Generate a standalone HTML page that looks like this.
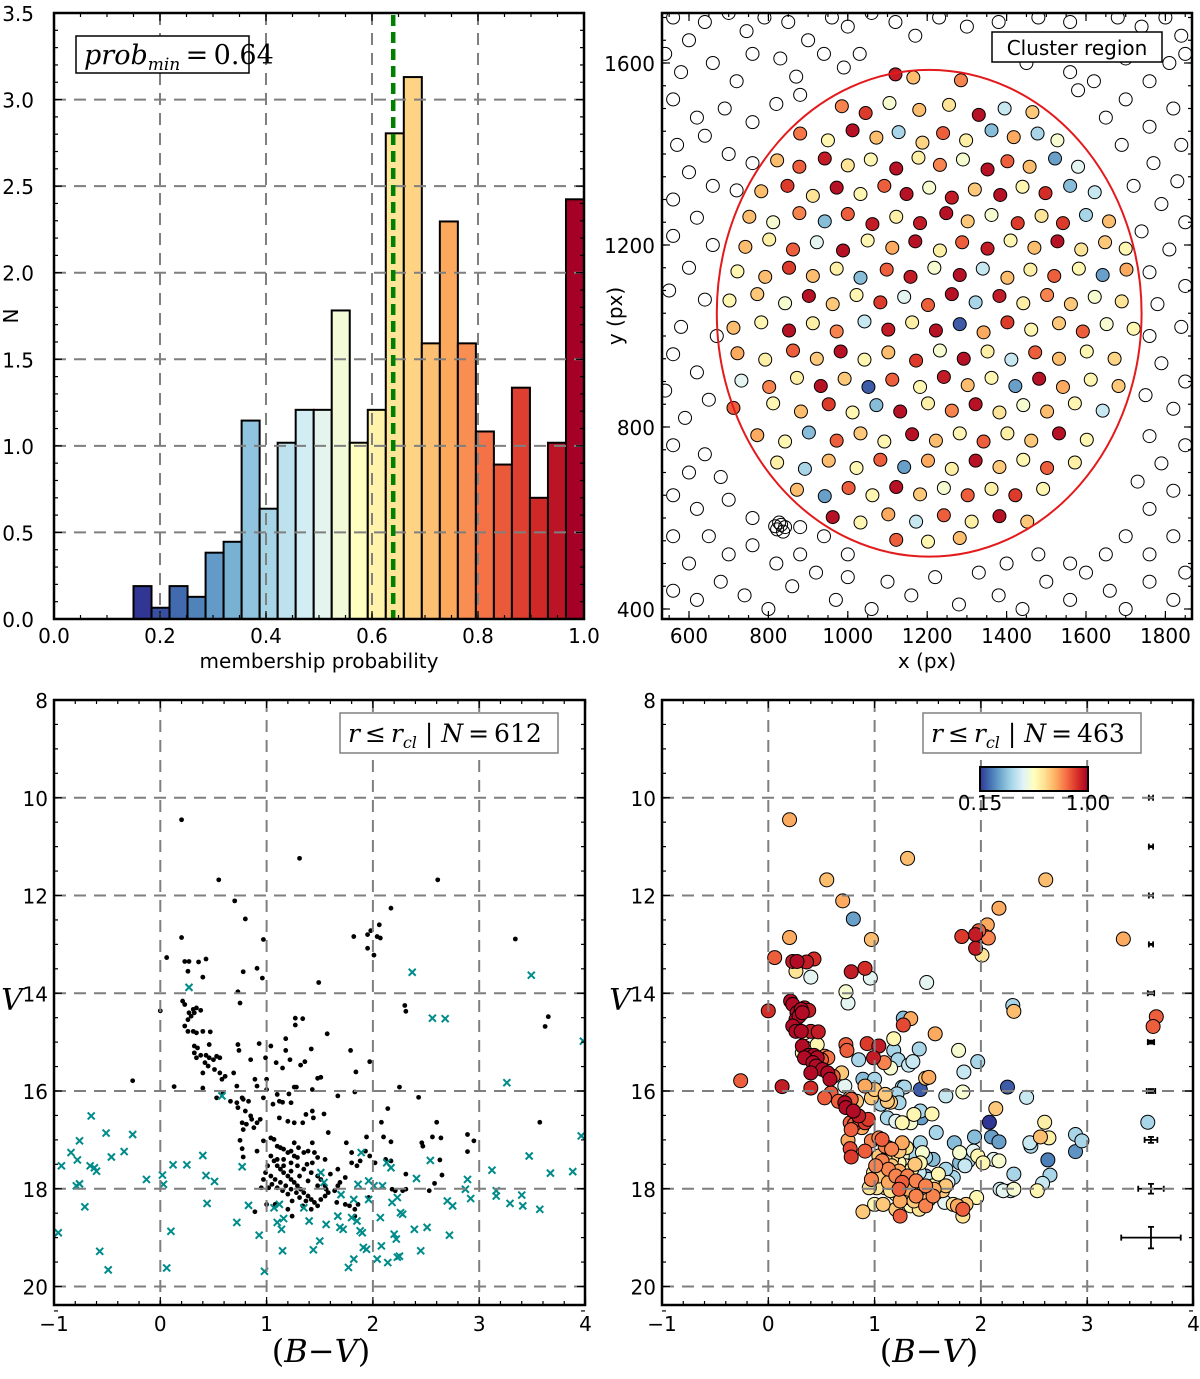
<!DOCTYPE html>
<html><head><meta charset="utf-8"><title>Cluster membership</title>
<style>
html,body{margin:0;padding:0;background:#fff;}
svg{display:block;}
.tick{font-family:"DejaVu Sans","Liberation Sans",sans-serif;font-size:20px;fill:#000;}
.lab{font-family:"DejaVu Sans","Liberation Sans",sans-serif;font-size:20px;fill:#000;}
.math{font-family:"DejaVu Serif","Liberation Serif",serif;font-style:italic;fill:#000;}
</style></head>
<body>
<svg id="fig" width="1200" height="1379" viewBox="0 0 1200 1379" xmlns="http://www.w3.org/2000/svg">
<defs>
<linearGradient id="cbgrad" x1="0" x2="1" y1="0" y2="0">
<stop offset="0" stop-color="#313695"/><stop offset="0.1" stop-color="#4575b4"/><stop offset="0.2" stop-color="#74add1"/><stop offset="0.3" stop-color="#abd9e9"/><stop offset="0.4" stop-color="#e0f3f8"/><stop offset="0.5" stop-color="#ffffbf"/><stop offset="0.6" stop-color="#fee090"/><stop offset="0.7" stop-color="#fdae61"/><stop offset="0.8" stop-color="#f46d43"/><stop offset="0.9" stop-color="#d73027"/><stop offset="1" stop-color="#a50026"/>
</linearGradient>
<clipPath id="clipTR"><rect x="662" y="13" width="530" height="606"/></clipPath>
<clipPath id="clipBL"><rect x="54" y="700" width="531" height="605"/></clipPath>
<clipPath id="clipBR"><rect x="662" y="700" width="531" height="605"/></clipPath>
</defs>
</svg>
<script>
// ---------- Histogram data ----------
const histStart = 0.15;
const histBinWidth = 0.034;
const histCounts = [0.19,0.065,0.19,0.128,0.383,0.446,1.146,0.637,1.018,1.208,1.208,1.782,1.018,1.208,2.805,3.13,1.592,2.296,1.592,1.083,0.892,1.336,0.70,1.018,2.424];
const probMin = 0.64;
const histXTicks = [0.0,0.2,0.4,0.6,0.8,1.0];
const histXTickLabels = ["0.0","0.2","0.4","0.6","0.8","1.0"];
const histYTicks = [0.0,0.5,1.0,1.5,2.0,2.5,3.0,3.5];
const histYTickLabels = ["0.0","0.5","1.0","1.5","2.0","2.5","3.0","3.5"];

// ---------- Spatial plot data ----------
const spXTicks = [600,800,1000,1200,1400,1600,1800];
const spYTicks = [400,800,1200,1600];
const clusterCenter = [1205,1050];
const clusterRadius = 535;
const memX = [1120,1165,1285,
985,1045,1105,1180,1255,1330,1395,1465,
880,950,1012,1072,1128,1188,1240,1298,1362,1418,1478,1528,
822,878,942,1000,1058,1122,1178,1232,1290,1352,1402,1458,1522,1580,
782,848,912,972,1032,1092,1148,1205,1262,1320,1384,1440,1498,1560,1622,
752,812,878,942,1000,1062,1122,1182,1248,1302,1362,1428,1488,1542,1600,1658,
742,802,862,922,988,1050,1112,1170,1232,1288,1352,1410,1470,1528,1588,1648,1700,
722,792,852,912,972,1032,1098,1158,1218,1282,1340,1402,1460,1520,1582,1642,1702,
702,772,842,902,962,1022,1082,1142,1202,1262,1322,1382,1442,1502,1562,1622,1690,
712,782,852,912,972,1042,1102,1162,1222,1282,1342,1402,1462,1532,1592,1652,1720,
722,792,862,922,982,1042,1102,1172,1232,1292,1352,1412,1472,1532,1602,1672,
732,802,872,932,992,1052,1112,1182,1242,1302,1362,1422,1482,1542,1612,1682,
712,812,882,952,1012,1072,1132,1202,1262,1322,1382,1442,1502,1572,1642,
772,842,902,972,1032,1092,1162,1222,1282,1342,1402,1462,1532,1602,
822,892,952,1022,1082,1142,1202,1262,1322,1382,1442,1502,1572,
872,942,1002,1062,1122,1182,1242,1302,1362,1422,1492,
962,1032,1102,1172,1242,1312,1382,1452,
1122,1202,1282];
const memY = [1575,1568,1562,
1505,1490,1512,1497,1508,1486,1500,1492,
1445,1430,1452,1436,1448,1425,1446,1430,1452,1437,1445,1430,
1386,1372,1390,1375,1388,1368,1392,1376,1388,1366,1384,1372,1390,1372,
1318,1330,1308,1326,1312,1330,1312,1326,1304,1322,1310,1328,1314,1330,1316,
1262,1250,1270,1252,1268,1246,1262,1248,1270,1252,1266,1248,1264,1248,1266,1252,
1196,1212,1190,1206,1188,1210,1194,1208,1188,1206,1192,1210,1194,1208,1190,1206,1192,
1142,1130,1150,1132,1148,1128,1146,1130,1150,1134,1148,1128,1146,1132,1148,1134,1146,
1078,1092,1072,1088,1070,1090,1074,1086,1068,1092,1074,1088,1072,1090,1070,1086,1076,
1018,1030,1012,1028,1010,1032,1014,1030,1012,1026,1008,1030,1014,1028,1010,1026,1016,
962,948,968,950,966,948,964,946,968,950,966,948,964,950,966,950,
902,888,908,890,906,888,904,888,910,892,908,890,906,888,904,890,
842,852,834,850,832,848,834,852,836,850,832,848,834,852,836,
782,768,788,770,786,768,784,770,786,768,786,770,786,772,
722,708,726,710,728,712,726,708,726,712,728,710,722,
662,648,666,650,668,652,666,650,664,650,664,
602,590,608,592,606,592,604,592,
552,548,556];
const memP = [0.95,0.72,0.8,
0.8,0.9,0.55,0.72,0.65,0.97,0.45,0.7,
0.82,0.6,0.97,0.72,0.4,0.68,0.85,0.62,0.35,0.75,0.4,0.55,
0.72,0.85,0.95,0.65,0.6,0.97,0.62,0.8,0.55,0.97,0.85,0.72,0.3,0.5,
0.72,0.9,0.65,0.97,0.6,0.85,0.97,0.55,0.95,0.7,0.97,0.6,0.92,0.35,0.45,
0.72,0.55,0.8,0.35,0.85,0.95,0.62,0.95,0.97,0.7,0.55,0.9,0.65,0.9,0.4,0.72,
0.72,0.62,0.85,0.5,0.97,0.6,0.75,0.97,0.62,0.85,0.95,0.6,0.72,0.97,0.65,0.7,0.6,
0.6,0.72,0.9,0.72,0.62,0.35,0.85,0.95,0.55,0.97,0.45,0.72,0.62,0.85,0.6,0.3,0.75,
0.6,0.7,0.55,0.97,0.7,0.6,0.9,0.5,0.85,0.97,0.4,0.95,0.62,0.8,0.7,0.55,0.65,
0.72,0.6,0.97,0.62,0.8,0.45,0.95,0.62,0.97,0.2,0.75,0.9,0.6,0.7,0.85,0.55,0.6,
0.75,0.62,0.85,0.7,0.97,0.6,0.72,0.9,0.55,0.97,0.62,0.45,0.85,0.72,0.6,0.68,
0.5,0.8,0.62,0.97,0.7,0.2,0.85,0.6,0.95,0.72,0.6,0.3,0.97,0.75,0.6,0.7,
0.85,0.6,0.72,0.9,0.6,0.35,0.97,0.62,0.8,0.97,0.65,0.55,0.72,0.6,0.45,
0.75,0.6,0.35,0.85,0.7,0.6,0.97,0.72,0.6,0.85,0.62,0.7,0.97,0.6,
0.62,0.4,0.72,0.6,0.85,0.3,0.75,0.62,0.97,0.7,0.6,0.85,0.62,
0.72,0.3,0.85,0.6,0.97,0.7,0.55,0.85,0.62,0.9,0.6,
0.97,0.6,0.75,0.45,0.85,0.62,0.97,0.7,
0.85,0.6,0.72];
const fieldX = [560,600,640,700,745,790,850,900,960,1000,1060,1120,1170,1230,1300,1380,1430,1480,1560,1620,1680,1740,1800,1840,
540,580,660,720,760,830,870,940,990,1030,1450,1500,1560,1620,1700,1760,1810,1850,
560,620,690,760,820,880,570,640,700,760,600,660,560,720,620,560,660,600,550,640,580,670,560,620,540,650,590,560,640,600,680,560,620,700,760,650,560,600,700,760,820,880,560,620,680,740,800,860,920,970,1000,1060,1100,1160,1220,1280,1330,1380,1440,1500,1560,1600,1660,1700,1760,1820,1850,1650,1700,1760,1820,1560,1480,1400,1000,940,880,
1760,1820,1730,1790,1850,1760,1820,1750,1850,1790,1760,1840,1780,1850,1760,1810,1740,1850,1790,1720,1830,1770,1690,1840,1760,1650,1820,1700,1580,
822,832,837,827,842,817];
const fieldY = [1700,1650,1690,1710,1670,1700,1690,1650,1700,1680,1710,1690,1660,1700,1680,1690,1650,1700,1690,1640,1700,1680,1700,1660,
1620,1580,1600,1560,1620,1610,1570,1620,1590,1620,1600,1620,1580,1560,1610,1560,1600,1620,
1520,1480,1500,1470,1510,1530,1420,1440,1400,1380,1360,1330,1300,1320,1260,1220,1200,1150,1100,1080,1020,1000,960,920,880,860,820,760,740,700,690,650,620,640,600,560,560,500,520,540,500,520,440,420,460,430,400,450,480,420,470,400,460,430,470,410,480,430,400,460,420,480,440,400,460,420,480,520,560,520,560,500,520,500,520,560,580,
620,660,680,720,760,780,840,870,900,940,1000,1020,1070,1110,1140,1190,1230,1250,1290,1330,1340,1380,1420,1420,1460,1480,1500,1520,1540,
575,585,570,590,580,582];

// ---------- CMD data ----------
const cmdXTicks = [-1,0,1,2,3,4];
const cmdXTickLabels = ["\u22121","0","1","2","3","4"];
const cmdYTicks = [8,10,12,14,16,18,20];
const starBV = [0.20,1.31,0.55,2.61,0.70,0.80,2.17,0.20,0.97,1.82,1.95,1.98,
2.06,2.04,2.07,1.95,2.01,3.34,0.06,0.23,0.27,0.36,0.43,0.26,
0.40,0.78,0.91,0.96,1.49,0.73,0.75,0.00,2.30,2.31,3.65,3.62,
0.21,0.23,0.27,0.31,0.34,0.38,0.26,0.29,0.32,0.23,0.26,0.31,
0.34,0.40,0.47,0.32,0.35,0.38,0.43,0.46,0.50,0.56,0.34,0.42,
0.45,0.51,0.56,0.58,0.61,0.46,0.32,0.53,0.40,0.69,0.72,0.59,
0.53,0.66,0.72,0.77,0.78,0.83,0.73,0.80,0.85,0.77,0.81,0.86,
0.91,0.94,0.78,0.88,0.73,0.74,0.85,0.93,1.04,0.99,1.09,1.15,
1.18,1.22,1.18,1.27,1.34,1.27,1.32,1.36,1.42,1.57,1.48,1.51,
1.43,1.26,1.28,1.21,1.23,1.15,1.12,1.06,1.12,1.20,1.26,1.34,
1.37,1.43,1.44,1.54,1.00,0.89,0.91,0.97,1.00,1.10,1.79,1.84,
1.83,1.67,1.97,2.14,2.08,2.25,2.43,0.75,0.77,0.78,0.91,0.97,
1.04,1.07,1.10,1.13,1.16,1.20,1.23,1.26,1.29,1.35,1.39,1.43,
1.48,1.55,1.58,1.43,1.04,1.07,1.10,1.13,1.16,1.20,1.23,1.26,
1.29,1.32,1.35,1.39,1.42,1.45,1.48,1.51,1.55,1.58,1.55,1.51,
1.48,1.42,1.35,1.29,1.23,1.16,1.10,1.01,0.99,1.04,1.08,1.13,
1.18,1.23,1.28,1.31,1.37,1.34,1.42,1.24,1.20,1.15,1.10,1.05,
1.02,0.95,0.97,1.16,1.23,1.31,1.39,1.48,1.56,1.64,1.67,1.69,
1.74,1.75,1.80,1.85,1.88,1.80,1.93,1.97,1.94,1.67,1.66,1.74,
1.78,1.83,1.86,1.96,1.83,1.24,1.20,1.08,1.00,0.89,2.02,2.12,
2.17,2.10,2.17,2.18,2.21,2.28,2.31,2.31,2.46,2.47,2.53,2.56,
2.63,2.65,2.64,2.58,2.60,2.89,2.89,2.95,3.57,-0.26,0.13,0.40,
1.26,1.30,1.45,1.38,1.60];
const starV = [10.45,11.24,11.68,11.68,12.11,12.48,12.26,12.86,12.90,12.84,12.80,12.72,
12.60,12.84,12.87,13.08,13.22,12.89,13.27,13.35,13.35,13.36,13.30,13.55,
13.67,13.56,13.49,13.69,13.78,13.97,14.20,14.36,14.25,14.37,14.48,14.68,
14.16,14.23,14.40,14.33,14.30,14.35,14.54,14.47,14.40,14.67,14.78,14.78,
14.81,14.78,14.79,15.08,15.12,15.27,15.27,15.32,15.36,15.32,15.32,15.42,
15.49,15.56,15.63,15.76,15.70,15.05,15.22,15.29,15.63,15.63,15.90,16.04,
16.14,16.21,16.24,16.14,16.17,16.21,16.34,16.41,16.51,16.65,16.68,16.58,
16.65,16.58,16.79,16.75,15.05,15.17,15.36,15.03,15.08,15.32,15.42,15.53,
15.17,15.36,14.93,14.51,14.52,14.65,15.47,15.40,15.14,14.83,15.74,15.72,
15.97,15.92,15.92,16.06,16.24,16.23,16.21,16.27,16.55,16.62,16.65,16.65,
16.48,16.41,16.55,16.47,15.76,15.76,15.90,16.14,15.97,16.07,15.17,15.61,
16.02,16.10,15.40,16.36,16.64,15.92,16.13,17.01,17.18,17.35,17.23,17.02,
16.96,16.99,17.13,17.16,17.19,17.26,17.23,17.33,17.36,17.26,17.23,17.06,
17.36,17.40,16.85,17.47,17.33,17.43,17.53,17.60,17.67,17.74,17.81,17.87,
17.94,18.01,18.08,18.15,18.22,18.28,18.35,18.22,18.15,18.08,17.94,17.81,
17.74,17.67,17.60,17.53,17.47,17.40,17.40,17.53,17.67,17.74,17.81,17.87,
17.94,18.01,18.08,18.18,18.25,18.35,18.42,18.25,18.11,18.04,17.98,17.91,
17.98,17.98,17.81,17.53,17.64,17.74,17.84,17.94,18.01,18.04,17.94,17.87,
17.77,17.06,17.47,17.53,17.43,17.26,17.23,17.33,16.94,17.60,18.28,18.32,
18.35,18.42,18.32,18.18,18.56,18.56,18.42,18.32,18.32,18.47,17.47,17.40,
17.43,16.94,17.04,18.01,18.04,18.04,17.70,18.01,17.06,17.13,18.04,16.94,
17.41,17.72,16.96,17.89,16.64,16.89,17.24,17.02,16.64,15.79,15.91,15.94,
17.06,17.16,17.26,17.50,17.70];
const starP = [0.75,0.72,0.72,0.72,0.75,0.3,0.75,0.75,0.72,0.9,0.95,0.85,
0.75,0.8,0.8,0.95,0.65,0.75,0.85,0.95,0.98,0.95,0.92,0.65,
0.5,0.95,0.92,0.5,0.5,0.55,0.5,0.92,0.4,0.72,0.85,0.85,
0.98,0.98,0.98,0.98,0.95,0.95,0.98,0.98,0.98,0.98,0.98,0.98,
0.6,0.95,0.95,0.98,0.55,0.98,0.98,0.98,0.85,0.82,0.98,0.98,
0.98,0.98,0.98,0.98,0.85,0.6,0.6,0.8,0.98,0.7,0.5,0.85,
0.85,0.85,0.98,0.7,0.85,0.7,0.98,0.98,0.95,0.85,0.85,0.85,
0.9,0.9,0.85,0.75,0.85,0.85,0.4,0.9,0.95,0.95,0.8,0.55,
0.4,0.4,0.6,0.35,0.75,0.88,0.45,0.45,0.4,0.75,0.7,0.75,
0.2,0.4,0.4,0.4,0.4,0.7,0.7,0.4,0.4,0.5,0.6,0.55,
0.6,0.4,0.3,0.6,0.4,0.35,0.75,0.7,0.7,0.7,0.55,0.45,
0.55,0.45,0.4,0.7,0.15,0.2,0.45,0.75,0.88,0.9,0.85,0.8,
0.8,0.85,0.8,0.75,0.8,0.65,0.7,0.55,0.35,0.4,0.35,0.4,
0.4,0.35,0.4,0.6,0.7,0.8,0.7,0.8,0.75,0.8,0.75,0.85,
0.65,0.75,0.6,0.8,0.6,0.65,0.8,0.7,0.8,0.65,0.6,0.45,
0.3,0.45,0.6,0.55,0.6,0.65,0.7,0.8,0.65,0.7,0.65,0.75,
0.6,0.85,0.6,0.65,0.7,0.6,0.65,0.75,0.6,0.65,0.6,0.6,
0.65,0.65,0.8,0.7,0.75,0.8,0.8,0.8,0.75,0.7,0.7,0.5,
0.4,0.35,0.35,0.45,0.4,0.55,0.5,0.6,0.35,0.4,0.5,0.65,
0.75,0.85,0.7,0.6,0.65,0.85,0.7,0.7,0.6,0.7,0.6,0.5,
0.55,0.3,0.3,0.45,0.5,0.45,0.4,0.55,0.45,0.4,0.6,0.72,
0.25,0.4,0.62,0.45,0.62,0.4,0.28,0.4,0.4,0.85,0.95,0.92,
0.75,0.65,0.55,0.7,0.6];
const crossBV = [2.37,3.49,2.56,2.68,3.98,0.27,3.26,-0.65,-0.51,-0.26,-0.76,-0.84,-0.78,-0.46,-0.34,-0.93,-0.66,-0.62,-0.60,-0.79,-0.76,-0.71,-0.96,-0.57,-0.49,-0.13,0.02,0.03,0.12,0.25,0.10,0.06,0.40,0.43,0.51,0.44,0.58,0.77,0.83,0.72,0.93,0.98,1.07,1.12,1.10,1.16,1.14,1.15,1.35,1.40,1.51,1.54,1.56,1.50,1.44,1.67,1.70,1.69,1.72,1.77,1.82,1.80,1.85,1.82,1.86,1.88,1.90,1.89,1.91,1.94,1.96,1.96,2.01,2.04,2.07,2.08,2.09,2.14,2.17,2.13,2.18,2.20,2.22,2.23,2.23,2.25,2.26,2.28,2.39,2.41,2.45,2.51,2.54,2.70,2.72,2.75,2.87,2.89,2.92,3.12,3.16,3.16,3.29,3.40,3.41,3.47,3.57,3.67,3.88,3.96];
const crossV = [13.57,13.63,14.51,14.52,14.98,13.88,15.83,16.51,16.86,16.89,17.02,17.26,17.41,17.35,17.24,17.53,17.53,17.57,17.64,17.94,17.90,18.37,18.90,19.28,19.66,17.81,17.72,17.91,17.51,17.51,18.87,19.62,17.32,17.73,17.85,18.30,16.10,17.55,18.34,18.69,18.95,19.69,18.39,18.32,18.69,18.61,18.83,19.27,18.39,18.66,17.67,17.87,18.73,19.07,19.25,18.56,18.12,18.79,18.83,19.61,19.44,18.59,18.66,18.22,17.91,18.86,18.90,17.26,19.20,19.24,18.22,17.84,17.94,19.44,18.59,19.17,17.94,19.51,17.57,17.47,18.28,18.93,19.03,18.18,19.40,19.38,18.49,18.52,18.83,17.79,19.27,18.79,17.42,18.25,18.95,18.35,18.01,17.81,18.20,17.62,18.04,18.15,18.30,18.13,18.35,17.33,18.42,17.68,17.65,16.92];
const errBVPos = 3.6;
const errV = [10,11,12,13,14,15,16,17,18,19];
const errBV = [0.02,0.02,0.02,0.02,0.03,0.03,0.04,0.06,0.12,0.28];
const errVerr = [0.01,0.01,0.01,0.01,0.02,0.03,0.04,0.06,0.10,0.22];

// ---------- helpers ----------
const NS = "http://www.w3.org/2000/svg";
const svg = document.getElementById("fig");
function el(tag, attrs, parent){
  const e = document.createElementNS(NS, tag);
  for (const k in attrs) e.setAttribute(k, attrs[k]);
  (parent||svg).appendChild(e);
  return e;
}
const cmapStops = ["#313695","#4575b4","#74add1","#abd9e9","#e0f3f8","#ffffbf","#fee090","#fdae61","#f46d43","#d73027","#a50026"];
function hexRgb(h){return [parseInt(h.substr(1,2),16),parseInt(h.substr(3,2),16),parseInt(h.substr(5,2),16)];}
function cmap(t){
  t=Math.max(0,Math.min(1,t));
  const f=t*10, i=Math.min(9,Math.floor(f)), u=f-i;
  const a=hexRgb(cmapStops[i]), b=hexRgb(cmapStops[i+1]);
  return "rgb("+a.map((v,k)=>Math.round(v+(b[k]-v)*u)).join(",")+")";
}
function probColor(p){return cmap((p-0.15)/0.85);}

function frame(x0,y0,x1,y1,name){
  const r = el("rect",{x:x0,y:y0,width:x1-x0,height:y1-y0,fill:"none",stroke:"#000","stroke-width":2.5});
  
  
}
function ticksX(vals, sx, y0, y1, len, name){
  const g = el("g",{stroke:"#000","stroke-width":1.2});
  
  
  vals.forEach(v=>{
    const x=sx(v);
    el("line",{x1:x,x2:x,y1:y1,y2:y1-len},g);
    el("line",{x1:x,x2:x,y1:y0,y2:y0+len},g);
  });
}
function ticksY(vals, sy, x0, x1, len, name){
  const g = el("g",{stroke:"#000","stroke-width":1.2});
  
  
  vals.forEach(v=>{
    const y=sy(v);
    el("line",{x1:x0,x2:x0+len,y1:y,y2:y},g);
    el("line",{x1:x1,x2:x1-len,y1:y,y2:y},g);
  });
}
function range(a,b,s){const r=[];for(let v=a;v<=b+1e-9;v+=s)r.push(+v.toFixed(4));return r;}
function gridX(vals,sx,y0,y1,name){
  const g=el("g",{stroke:"#7f7f7f","stroke-width":2,"stroke-dasharray":"12,8"});
  
  
  vals.forEach(v=>{const x=sx(v);el("line",{x1:x,x2:x,y1:y0,y2:y1},g);});
}
function gridY(vals,sy,x0,x1,name){
  const g=el("g",{stroke:"#7f7f7f","stroke-width":2,"stroke-dasharray":"12,8"});
  
  
  vals.forEach(v=>{const y=sy(v);el("line",{x1:x0,x2:x1,y1:y,y2:y},g);});
}
function text(x,y,str,cls,anchor,name,extra){
  const t=el("text",Object.assign({x:x,y:y,"class":cls,"text-anchor":anchor||"middle"},extra||{}));
  t.textContent=str;
  
  
  return t;
}

// ================= Panel 1: histogram =================
const hx0=54,hx1=584,hy0=13,hy1=619;
const hX = p => hx0 + p*(hx1-hx0);
const hY = n => hy1 - n*(hy1-hy0)/3.5;
const histG = el("g",{});


histCounts.forEach((c,i)=>{
  const a=histStart+i*histBinWidth, b=a+histBinWidth;
  const r=el("rect",{x:hX(a),y:hY(c),width:hX(b)-hX(a),height:hY(0)-hY(c),fill:cmap(i/(histCounts.length-1)),stroke:"#000","stroke-width":2},histG);
  
  
});
gridX([0.2,0.4,0.6,0.8],hX,hy0,hy1,"histogram-x-grid");
gridY([0.5,1.0,1.5,2.0,2.5,3.0],hY,hx0,hx1,"histogram-y-grid");
const pm=el("line",{x1:hX(probMin),x2:hX(probMin),y1:hy0+2,y2:hy1,stroke:"#008000","stroke-width":4.5,"stroke-dasharray":"11,6"});


ticksX(range(0,1,0.05),hX,hy0,hy1,4,"histogram-x-minor-ticks");
ticksX(histXTicks,hX,hy0,hy1,8,"histogram-x-major-ticks");
ticksY(range(0,3.5,0.1),hY,hx0,hx1,4,"histogram-y-minor-ticks");
ticksY(histYTicks,hY,hx0,hx1,8,"histogram-y-major-ticks");
frame(hx0,hy0,hx1,hy1,"histogram-frame");
histXTicks.forEach((v,i)=>text(hX(v),643,histXTickLabels[i],"tick","middle","histogram-x-tick-label"));
histYTicks.forEach((v,i)=>text(34,hY(v)+8,histYTickLabels[i],"tick","end","histogram-y-tick-label"));
text(319,668,"membership probability","lab","middle","histogram-x-axis-title");
text(18,316,"N","lab","middle","histogram-y-axis-title",{transform:"rotate(-90 18 316)"});
const lb1=el("rect",{x:76,y:36,width:173,height:37,fill:"#fff",stroke:"#000","stroke-width":1.5});


const t1=text(84,64,"","math","start","prob-min-legend-text",{"font-size":"27px"});
t1.innerHTML='prob<tspan font-size="17px" dy="6">min</tspan><tspan dy="-6" font-style="normal">\u2009=\u20090.64</tspan>';

// ================= Panel 2: spatial =================
const sx0=662,sx1=1192,sy0=13,sy1=619;
const sX = x => 689 + (x-600)*0.397;
const sY = y => 63 + (1600-y)*0.455;
const spG=el("g",{"clip-path":"url(#clipTR)"});


const nf=Math.min(fieldX.length,fieldY.length);
for(let i=0;i<nf;i++){
  const c=el("circle",{cx:sX(fieldX[i]),cy:sY(fieldY[i]),r:6.5,fill:"none",stroke:"#000","stroke-width":1},spG);
  
  
}
const nm=Math.min(memX.length,memY.length,memP.length);
for(let i=0;i<nm;i++){
  const c=el("circle",{cx:sX(memX[i]),cy:sY(memY[i]),r:6.5,fill:probColor(memP[i]),stroke:"#000","stroke-width":1},spG);
  
  
}
const ell=el("ellipse",{cx:sX(clusterCenter[0]),cy:sY(clusterCenter[1]),rx:clusterRadius*0.397,ry:clusterRadius*0.455,fill:"none",stroke:"#e31a1c","stroke-width":2},spG);


ticksX(range(550,1850,50),sX,sy0,sy1,4,"spatial-x-minor-ticks");
ticksX(spXTicks,sX,sy0,sy1,8,"spatial-x-major-ticks");
ticksY(range(400,1700,50),sY,sx0,sx1,4,"spatial-y-minor-ticks");
ticksY(spYTicks,sY,sx0,sx1,8,"spatial-y-major-ticks");
frame(sx0,sy0,sx1,sy1,"spatial-frame");
spXTicks.forEach(v=>text(sX(v),643,String(v),"tick","middle","spatial-x-tick-label"));
spYTicks.forEach(v=>text(655,sY(v)+8,String(v),"tick","end","spatial-y-tick-label"));
text(927,668,"x (px)","lab","middle","spatial-x-axis-title");
text(622,316,"y (px)","lab","middle","spatial-y-axis-title",{transform:"rotate(-90 622 316)"});
const lb2=el("rect",{x:992,y:32,width:170,height:30,fill:"#fff",stroke:"#000","stroke-width":1.5});


text(1077,55,"Cluster region","lab","middle","cluster-region-legend-text");

// ================= Panels 3 & 4: CMDs =================
const cy0=700,cy1=1305;
const cY = v => 700 + (v-8)*48.875;
function cmdAxes(x0){
  const x1=x0+531;
  const cX = b => x0 + (b+1)*106.3;
  return {x0,x1,cX};
}
const L=cmdAxes(54), R=cmdAxes(662);

const blG=el("g",{"clip-path":"url(#clipBL)"});


const ns=Math.min(starBV.length,starV.length,starP.length);
for(let i=0;i<ns;i++){
  const c=el("circle",{cx:L.cX(starBV[i]),cy:cY(starV[i]),r:2.4,fill:"#000"},blG);
  
  
}
const nc=Math.min(crossBV.length,crossV.length);
for(let i=0;i<nc;i++){
  const x=L.cX(crossBV[i]), y=cY(crossV[i]);
  const p=el("path",{d:`M${x-3.5},${y-3.5}L${x+3.5},${y+3.5}M${x-3.5},${y+3.5}L${x+3.5},${y-3.5}`,stroke:"#008b8b","stroke-width":2,fill:"none"},blG);
  
  
}
const brG=el("g",{"clip-path":"url(#clipBR)"});


const order=[...Array(ns).keys()].sort((a,b)=>starP[a]-starP[b]);
order.forEach(i=>{
  const c=el("circle",{cx:R.cX(starBV[i]),cy:cY(starV[i]),r:7,fill:probColor(starP[i]),stroke:"#000","stroke-width":1},brG);
  
  
});
const ebG=el("g",{stroke:"#000","stroke-width":1.8});


errV.forEach((v,i)=>{
  const x=R.cX(errBVPos), y=cY(v), dx=errBV[i]*106.3, dy=Math.max(0.5,errVerr[i]*48.875);
  el("line",{x1:x-dx,x2:x+dx,y1:y,y2:y},ebG);
  el("line",{x1:x,x2:x,y1:y-dy,y2:y+dy},ebG);
  el("line",{x1:x-dx,x2:x-dx,y1:y-3,y2:y+3},ebG);
  el("line",{x1:x+dx,x2:x+dx,y1:y-3,y2:y+3},ebG);
  el("line",{x1:x-3,x2:x+3,y1:y-dy,y2:y-dy},ebG);
  el("line",{x1:x-3,x2:x+3,y1:y+dy,y2:y+dy},ebG);
});

[[L,"left",612],[R,"right",463]].forEach(([A,side,N])=>{
  gridX([0,1,2,3],A.cX,cy0,cy1,side+"-cmd-x-grid");
  gridY([10,12,14,16,18,20],cY,A.x0,A.x1,side+"-cmd-y-grid");
  ticksX(range(-1,4,0.2),A.cX,cy0,cy1,4,side+"-cmd-x-minor-ticks");
  ticksX(cmdXTicks,A.cX,cy0,cy1,8,side+"-cmd-x-major-ticks");
  ticksY(range(8,20.5,0.5),cY,A.x0,A.x1,4,side+"-cmd-y-minor-ticks");
  ticksY(cmdYTicks,cY,A.x0,A.x1,8,side+"-cmd-y-major-ticks");
  frame(A.x0,cy0,A.x1,cy1,side+"-cmd-frame");
  cmdXTicks.forEach((v,i)=>text(A.cX(v),1331,cmdXTickLabels[i],"tick","middle",side+"-cmd-x-tick-label"));
  cmdYTicks.forEach(v=>text(A.x0-6,cY(v)+8,String(v),"tick","end",side+"-cmd-y-tick-label"));
  const xt=text(A.x0+267,1362,"","math","middle",side+"-cmd-x-axis-title",{"font-size":"32px"});
  xt.innerHTML='<tspan font-style="normal">(</tspan>B\u2212V<tspan font-style="normal">)</tspan>';
  text(A.x0-42,1010,"V","math","middle",side+"-cmd-y-axis-title",{"font-size":"30px"});
  const bx = side==="left" ? 340 : 923;
  const bw = 218;
  const lb=el("rect",{x:bx,y:713,width:bw,height:40,fill:"#fff",stroke:"#808080","stroke-width":1.5});
  
  
  const lt=text(bx+8,742,"","math","start",side+"-cmd-legend-text",{"font-size":"25px"});
  lt.innerHTML='r<tspan font-style="normal">\u2009\u2264\u2009</tspan>r<tspan font-size="16px" dy="6">cl</tspan><tspan dy="-6" font-style="normal"> | </tspan>N<tspan font-style="normal">\u2009=\u2009'+N+'</tspan>';
});
const cb=el("rect",{x:980,y:767,width:108,height:24,fill:"url(#cbgrad)",stroke:"#000","stroke-width":2});


text(980,810,"0.15","tick","middle","colorbar-min-label",{"font-size":"16px"});
text(1088,810,"1.00","tick","middle","colorbar-max-label",{"font-size":"16px"});
</script>
</body></html>
